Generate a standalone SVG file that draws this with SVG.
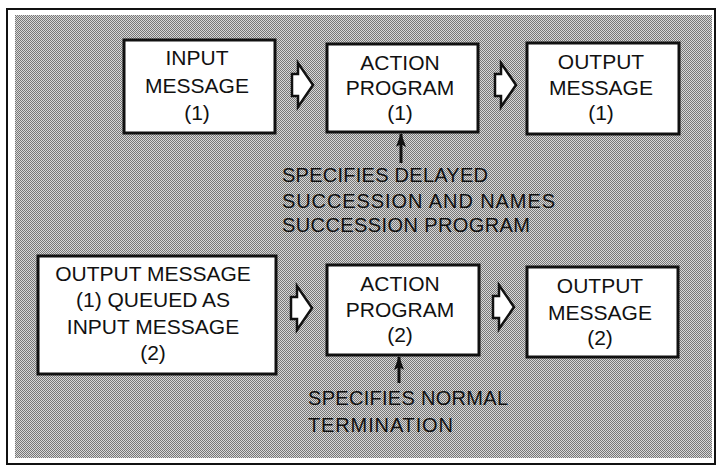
<svg xmlns="http://www.w3.org/2000/svg" width="719" height="466" viewBox="0 0 719 466">
<defs>
<pattern id="dots" width="2" height="2" patternUnits="userSpaceOnUse">
<rect width="2" height="2" fill="#d8d8d8"/>
<rect width="1" height="1" fill="#777"/>
<rect x="1" y="1" width="1" height="1" fill="#777"/>
</pattern>
<path id="blk" d="M0,-11 L6,-11 L6,-22 L21,0 L6,22 L6,11 L0,11 Z"/>
<marker id="ah" viewBox="0 0 14 10" refX="13" refY="5" markerWidth="14" markerHeight="10" markerUnits="userSpaceOnUse" orient="auto">
<path d="M0,0 L14,5 L0,10 L3,5 Z" fill="#111"/>
</marker>
</defs>
<style>
.box{fill:#fff;stroke:#111;stroke-width:3}
.t{font-family:"Liberation Sans",Arial,sans-serif;font-size:21px;fill:#111;text-anchor:middle}
.a{font-family:"Liberation Sans",Arial,sans-serif;font-size:20px;fill:#111}
.blk{fill:#fff;stroke:#111;stroke-width:2.5;stroke-linejoin:miter}
.con{stroke:#111;stroke-width:3;fill:none}
</style>
<rect x="0" y="0" width="719" height="466" fill="#fff"/>
<rect x="7" y="9" width="708" height="455" fill="#fff" stroke="#111" stroke-width="2"/>
<rect x="15" y="15" width="697" height="443" fill="url(#dots)"/>

<g id="connectors">
<use href="#blk" class="blk" transform="translate(292,85)"/>
<use href="#blk" class="blk" transform="translate(495,85)"/>
<use href="#blk" class="blk" transform="translate(291,308)"/>
<use href="#blk" class="blk" transform="translate(493,307)"/>
<line class="con" x1="401" y1="163" x2="401" y2="134" marker-end="url(#ah)"/>
<line class="con" x1="399" y1="383" x2="399" y2="357" marker-end="url(#ah)"/>
</g>

<g id="input1">
<rect class="box" x="124" y="40" width="151" height="93"/>
<text class="t" x="197" y="65">INPUT</text>
<text class="t" x="197" y="93">MESSAGE</text>
<text class="t" x="197" y="120">(1)</text>
</g>
<g id="action1">
<rect class="box" x="327" y="44" width="151" height="88"/>
<text class="t" x="400" y="70">ACTION</text>
<text class="t" x="400" y="95">PROGRAM</text>
<text class="t" x="400" y="120">(1)</text>
</g>
<g id="output1">
<rect class="box" x="527" y="43" width="152" height="91"/>
<text class="t" x="601" y="69">OUTPUT</text>
<text class="t" x="601" y="95">MESSAGE</text>
<text class="t" x="601" y="120">(1)</text>
</g>
<g id="note1">
<text class="a" x="282" y="182" textLength="206" lengthAdjust="spacing">SPECIFIES DELAYED</text>
<text class="a" x="282" y="208" textLength="273" lengthAdjust="spacing">SUCCESSION AND NAMES</text>
<text class="a" x="282" y="232" textLength="248" lengthAdjust="spacing">SUCCESSION PROGRAM</text>
</g>
<g id="queued">
<rect class="box" x="38" y="256" width="238" height="118"/>
<text class="t" x="153" y="281">OUTPUT MESSAGE</text>
<text class="t" x="153" y="307">(1) QUEUED AS</text>
<text class="t" x="153" y="334">INPUT MESSAGE</text>
<text class="t" x="153" y="360">(2)</text>
</g>
<g id="action2">
<rect class="box" x="327" y="265" width="152" height="90"/>
<text class="t" x="400" y="291">ACTION</text>
<text class="t" x="400" y="317">PROGRAM</text>
<text class="t" x="400" y="342">(2)</text>
</g>
<g id="output2">
<rect class="box" x="527" y="267" width="151" height="90"/>
<text class="t" x="600" y="293">OUTPUT</text>
<text class="t" x="600" y="320">MESSAGE</text>
<text class="t" x="600" y="345">(2)</text>
</g>
<g id="note2">
<text class="a" x="308" y="405" textLength="200" lengthAdjust="spacing">SPECIFIES NORMAL</text>
<text class="a" x="308" y="432" textLength="145" lengthAdjust="spacing">TERMINATION</text>
</g>
</svg>
